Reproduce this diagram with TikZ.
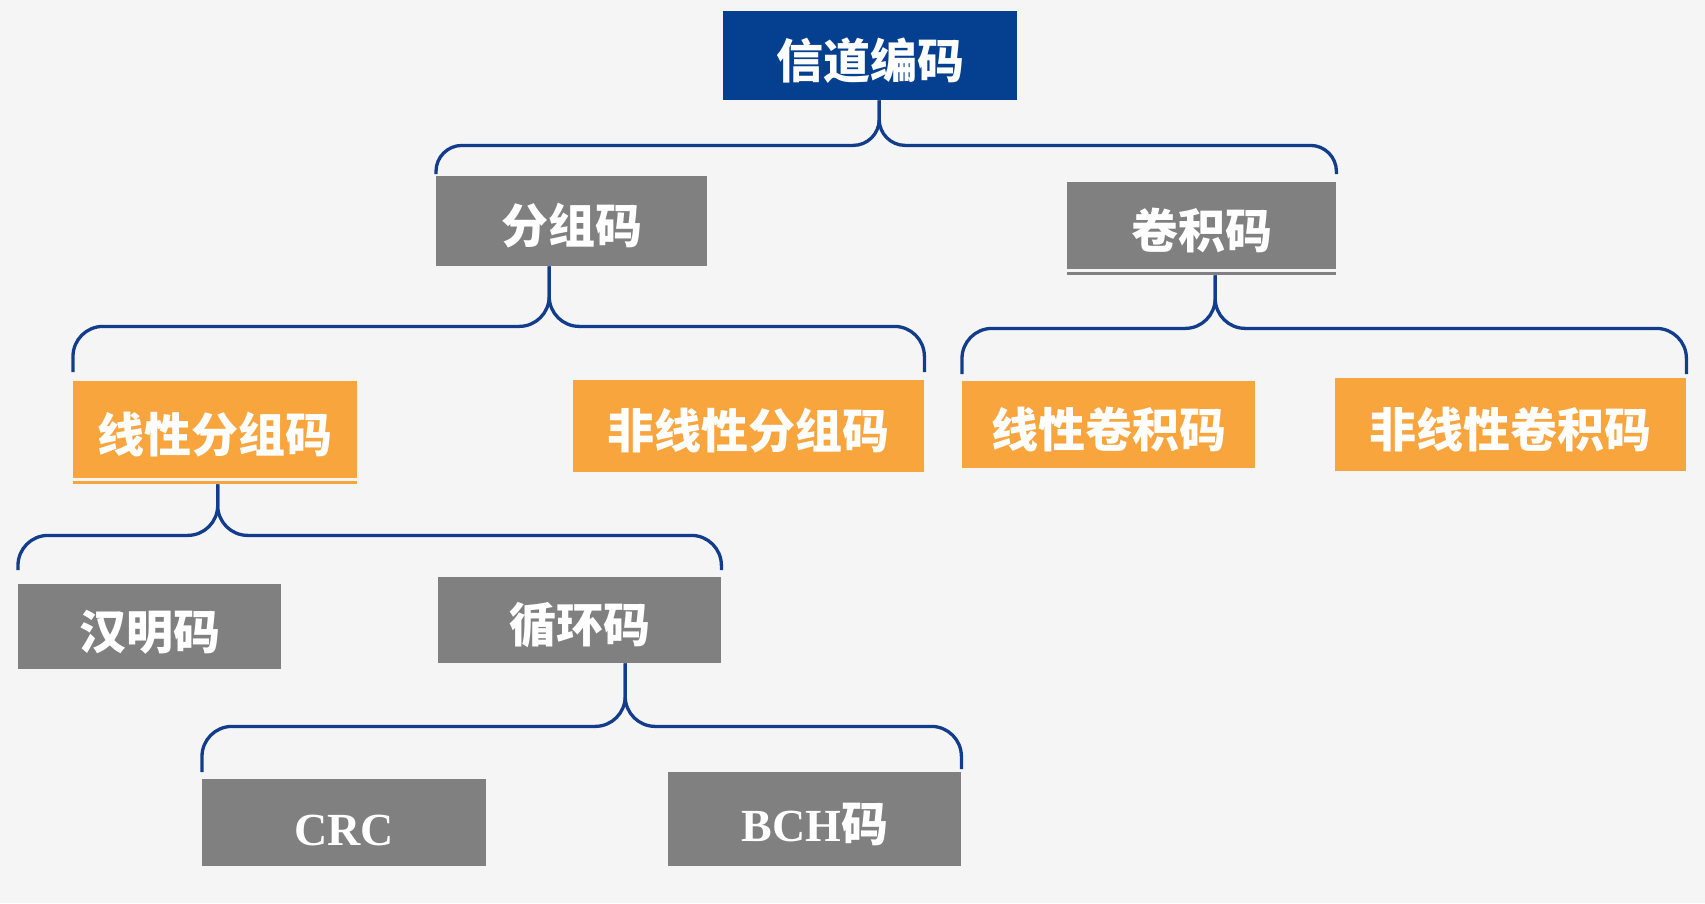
\documentclass[tikz,border=0pt]{standalone}
\usepackage{fontspec}
\newfontfamily\cjk{Noto Sans CJK SC}
\newfontfamily\tms{Liberation Serif}
\definecolor{bgc}{HTML}{F5F5F5}
\definecolor{rootblue}{HTML}{04408F}
\definecolor{boxgray}{HTML}{808080}
\definecolor{boxorange}{HTML}{F9A53E}
\definecolor{linkblue}{HTML}{123D8D}
\tikzset{
  box/.style={inner sep=0pt, anchor=north west, text=white,
    text height=51pt, text depth=6pt,
    font=\cjk\bfseries\fontsize{47pt}{50pt}\selectfont},
  rootbox/.style={box, fill=rootblue},
  graybox/.style={box, fill=boxgray},
  orangebox/.style={box, fill=boxorange},
  brace/.style={draw=linkblue, line width=3.3pt, rounded corners=30pt},
  rootbrace/.style={brace, rounded corners=26pt}
}
\begin{document}
\begin{tikzpicture}[x=1pt,y=-1pt]
\useasboundingbox (0,0) rectangle (1705,903);
\fill[bgc] (0,0) rectangle (1705,903);

% nodes
\node[rootbox, minimum width=294pt, minimum height=89pt] (root) at (723,11) {信道编码};
\node[graybox, minimum width=271pt, minimum height=90pt] (fz) at (436,176) {分组码};
\node[graybox, minimum width=269pt, minimum height=87pt] (jj) at (1067,182) {卷积码};
\node[orangebox, minimum width=284pt, minimum height=97pt] (xf) at (73,381) {线性分组码};
\node[orangebox, minimum width=351pt, minimum height=92pt] (fx) at (573,380) {非线性分组码};
\node[orangebox, minimum width=293pt, minimum height=87pt] (xj) at (962,381) {线性卷积码};
\node[orangebox, minimum width=351pt, minimum height=93pt] (fj) at (1335,378) {非线性卷积码};
\node[graybox, minimum width=263pt, minimum height=85pt] (hm) at (18,584) {汉明码};
\node[graybox, minimum width=283pt, minimum height=86pt] (xh) at (438,577) {循环码};
\node[graybox, minimum width=284pt, minimum height=87pt] (crc) at (202,779)
  {\tms\bfseries\fontsize{46pt}{50pt}\selectfont CRC};
\node[graybox, minimum width=293pt, minimum height=94pt] (bch) at (668,772)
  {{\tms\bfseries\fontsize{46pt}{50pt}\selectfont BCH}码};

% thin lines under two boxes
\draw[boxgray, line width=2.2pt] ([yshift=-4pt]jj.south west) -- ([yshift=-4pt]jj.south east);
\draw[boxorange, line width=2.2pt] ([yshift=-4pt]xf.south west) -- ([yshift=-4pt]xf.south east);

% braces
\draw[rootbrace] ([xshift=9pt]root.south) -- ++(0,45) -| ([yshift=2pt]fz.north west);
\draw[rootbrace] ([xshift=9pt]root.south) -- ++(0,45) -| ([yshift=8pt]jj.north east);

\draw[brace] ([xshift=-22.5pt]fz.south) -- ++(0,60) -| ([yshift=9pt]xf.north west);
\draw[brace] ([xshift=-22.5pt]fz.south) -- ++(0,60) -| ([yshift=8pt]fx.north east);

\draw[brace] ([xshift=13.5pt,yshift=-6pt]jj.south) -- ++(0,53) -| ([yshift=7pt]xj.north west);
\draw[brace] ([xshift=13.5pt,yshift=-6pt]jj.south) -- ++(0,53) -| ([yshift=4pt]fj.north east);

\draw[brace] ([xshift=2.5pt,yshift=-6pt]xf.south) -- ++(0,51) -| ([yshift=14pt]hm.north west);
\draw[brace] ([xshift=2.5pt,yshift=-6pt]xf.south) -- ++(0,51) -| ([yshift=7pt]xh.north east);

\draw[brace] ([xshift=45.5pt]xh.south) -- ++(0,63) -| ([yshift=7pt]crc.north west);
\draw[brace] ([xshift=45.5pt]xh.south) -- ++(0,63) -| ([yshift=3pt]bch.north east);
\end{tikzpicture}
\end{document}
